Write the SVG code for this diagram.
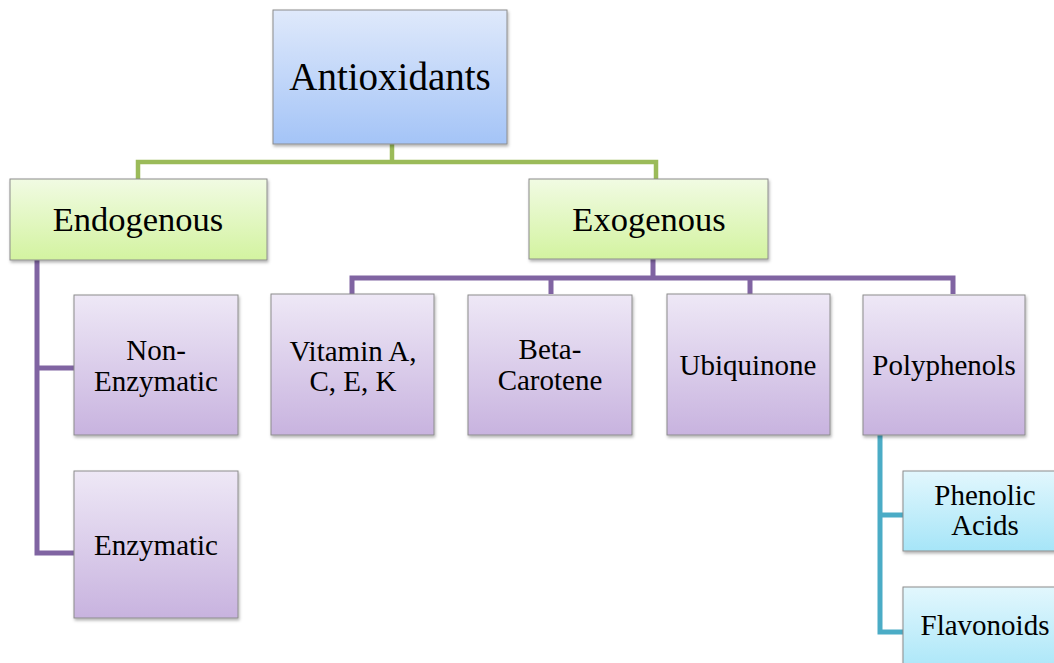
<svg xmlns="http://www.w3.org/2000/svg" width="1054" height="663" viewBox="0 0 1054 663">
<defs>
<linearGradient id="gBlue" x1="0" y1="0" x2="0" y2="1"><stop offset="0" stop-color="#dfe9fb"/><stop offset="1" stop-color="#a4c4f7"/></linearGradient>
<linearGradient id="gGreen" x1="0" y1="0" x2="0" y2="1"><stop offset="0" stop-color="#f1fbe3"/><stop offset="1" stop-color="#d3f3a0"/></linearGradient>
<linearGradient id="gPurple" x1="0" y1="0" x2="0" y2="1"><stop offset="0" stop-color="#eee8f6"/><stop offset="1" stop-color="#c8b3df"/></linearGradient>
<linearGradient id="gTeal" x1="0" y1="0" x2="0" y2="1"><stop offset="0" stop-color="#e2f7fd"/><stop offset="1" stop-color="#a6e5f8"/></linearGradient>
<filter id="sh" x="-10%" y="-10%" width="130%" height="130%"><feDropShadow dx="1" dy="2" stdDeviation="1.5" flood-color="#000" flood-opacity="0.3"/></filter>
</defs>
<style>
.box{stroke:#8c8c8c;stroke-width:1;filter:url(#sh)}
.t{font-family:"Liberation Serif","Times New Roman",serif;fill:#000;text-anchor:middle;font-size:29px}
.c{fill:none;stroke-width:5;stroke-linejoin:miter}
</style>
<rect width="1054" height="663" fill="#fff"/>
<g id="connectors">
<path class="c" stroke="#9bbb59" style="stroke-width:4.5" d="M392 144V162M138 179V162H656V179"/>
<path class="c" stroke="#8064a2" d="M653 259V278M352 294V278H953V294M551 294V278M750 294V278"/>
<path class="c" stroke="#8064a2" d="M37 260V553H74M37 368H74"/>
<path class="c" stroke="#4bacc6" d="M880 435V632H903M880 515H903"/>
</g>
<g id="antioxidants"><rect class="box" x="273" y="10" width="234" height="134" fill="url(#gBlue)"/><text class="t" x="390" y="90" style="font-size:39px">Antioxidants</text></g>
<g id="endogenous"><rect class="box" x="10" y="179" width="257" height="81" fill="url(#gGreen)"/><text class="t" x="138" y="231" style="font-size:34.5px">Endogenous</text></g>
<g id="exogenous"><rect class="box" x="529" y="179" width="239" height="80" fill="url(#gGreen)"/><text class="t" x="649" y="231" style="font-size:34.5px">Exogenous</text></g>
<g id="non-enzymatic"><rect class="box" x="74" y="295" width="164" height="140" fill="url(#gPurple)"/><text class="t" x="156" y="360">Non-</text><text class="t" x="156" y="391">Enzymatic</text></g>
<g id="enzymatic"><rect class="box" x="74" y="471" width="164" height="147" fill="url(#gPurple)"/><text class="t" x="156" y="555">Enzymatic</text></g>
<g id="vitamins"><rect class="box" x="271" y="294" width="163" height="141" fill="url(#gPurple)"/><text class="t" x="353" y="361">Vitamin A,</text><text class="t" x="353" y="391">C, E, K</text></g>
<g id="beta-carotene"><rect class="box" x="468" y="295" width="164" height="140" fill="url(#gPurple)"/><text class="t" x="550" y="359">Beta-</text><text class="t" x="550" y="390">Carotene</text></g>
<g id="ubiquinone"><rect class="box" x="667" y="294" width="163" height="141" fill="url(#gPurple)"/><text class="t" x="748" y="375">Ubiquinone</text></g>
<g id="polyphenols"><rect class="box" x="863" y="295" width="162" height="140" fill="url(#gPurple)"/><text class="t" x="944" y="375">Polyphenols</text></g>
<g id="phenolic-acids"><rect class="box" x="903" y="471" width="160" height="80" fill="url(#gTeal)"/><text class="t" x="985" y="505">Phenolic</text><text class="t" x="985" y="535">Acids</text></g>
<g id="flavonoids"><rect class="box" x="903" y="587" width="160" height="90" fill="url(#gTeal)"/><text class="t" x="985" y="635">Flavonoids</text></g>
</svg>
